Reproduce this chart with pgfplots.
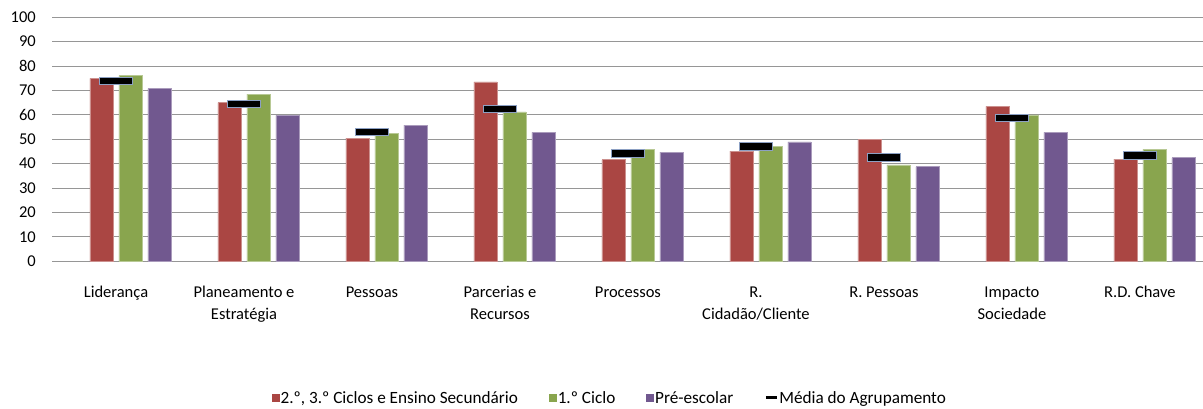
\documentclass[border=0pt]{standalone}
\usepackage{fontspec}
\setmainfont{Carlito}
\usepackage{pgfplots}
\pgfplotsset{compat=1.18}

\definecolor{cred}{RGB}{170,70,67}
\definecolor{cgreen}{RGB}{137,165,78}
\definecolor{cpurple}{RGB}{113,88,143}
\definecolor{gridc}{RGB}{150,150,150}
\definecolor{mline}{RGB}{140,160,195}

\pgfdeclareplotmark{mediabar}{%
  \pgfpathrectangle{\pgfpoint{-16.5pt}{-3.8pt}}{\pgfpoint{33pt}{7.6pt}}%
  \pgfusepathqfillstroke}

\begin{document}
\begin{tikzpicture}
\path[use as bounding box] (0,0) rectangle (1203pt,408pt);
\begin{axis}[
    at={(52pt,146.7pt)}, anchor=south west,
    scale only axis,
    width=1152pt, height=244pt,
    xmin=-0.5, xmax=8.5,
    ymin=0, ymax=100,
    ytick={0,10,...,100},
    xtick={0,...,8},
    xticklabels={Liderança, Planeamento e\\Estratégia, Pessoas, Parcerias e\\Recursos, Processos, R.\\Cidadão/Cliente, R. Pessoas, Impacto\\Sociedade, R.D. Chave},
    axis line style={draw=none},
    tick style={draw=none},
    ymajorgrids,
    grid style={gridc, line width=1pt},
    /pgf/number format/assume math mode=true,
    tick label style={font=\fontsize{16.5}{22}\selectfont},
    yticklabel style={inner sep=0pt, xshift=-16pt},
    xticklabel style={align=center, anchor=north, inner sep=0pt, yshift=-25pt},
    legend columns=4,
    legend style={at={(axis description cs:0.188,-0.56)}, anchor=west, draw=none,
        font=\fontsize{17.2}{20}\selectfont,
        nodes={inner sep=1pt},
        /tikz/every even column/.append style={column sep=30pt}},
]
\addplot[ybar, bar width=23pt, bar shift=-14.5pt, fill=cred, draw=cred!60!white, line width=0.8pt,
    legend image code/.code={\fill[cred] (0pt,-3.5pt) rectangle (7pt,3.5pt);}]
  coordinates {(0,75.0) (1,65.0) (2,50.5) (3,73.5) (4,41.6) (5,45.2) (6,49.8) (7,63.5) (8,41.9)};
\addlegendentry{2.º, 3.º Ciclos e Ensino Secundário}
\addplot[ybar, bar width=23pt, bar shift=14.5pt, fill=cgreen, draw=cgreen!60!white, line width=0.8pt,
    legend image code/.code={\fill[cgreen] (0pt,-3.5pt) rectangle (7pt,3.5pt);}]
  coordinates {(0,76.1) (1,68.5) (2,52.4) (3,61.2) (4,45.9) (5,47.1) (6,39.5) (7,60.0) (8,45.9)};
\addlegendentry{1.º Ciclo}
\addplot[ybar, bar width=23pt, bar shift=43.5pt, fill=cpurple, draw=cpurple!60!white, line width=0.8pt,
    legend image code/.code={\fill[cpurple] (0pt,-3.5pt) rectangle (7pt,3.5pt);}]
  coordinates {(0,70.8) (1,59.8) (2,55.8) (3,52.8) (4,44.7) (5,48.9) (6,38.7) (7,52.8) (8,42.4)};
\addlegendentry{Pré-escolar}
\addplot[only marks, mark=mediabar, mark options={fill=black, draw=mline, line width=0.8pt},
    legend image code/.code={\draw[black, line width=3pt] (0pt,0pt) -- (11pt,0pt);}]
  coordinates {(0,74.0) (1,64.5) (2,53.0) (3,62.5) (4,44.1) (5,47.0) (6,42.6) (7,58.7) (8,43.4)};
\addlegendentry{Média do Agrupamento}
\end{axis}
\end{tikzpicture}
\end{document}
